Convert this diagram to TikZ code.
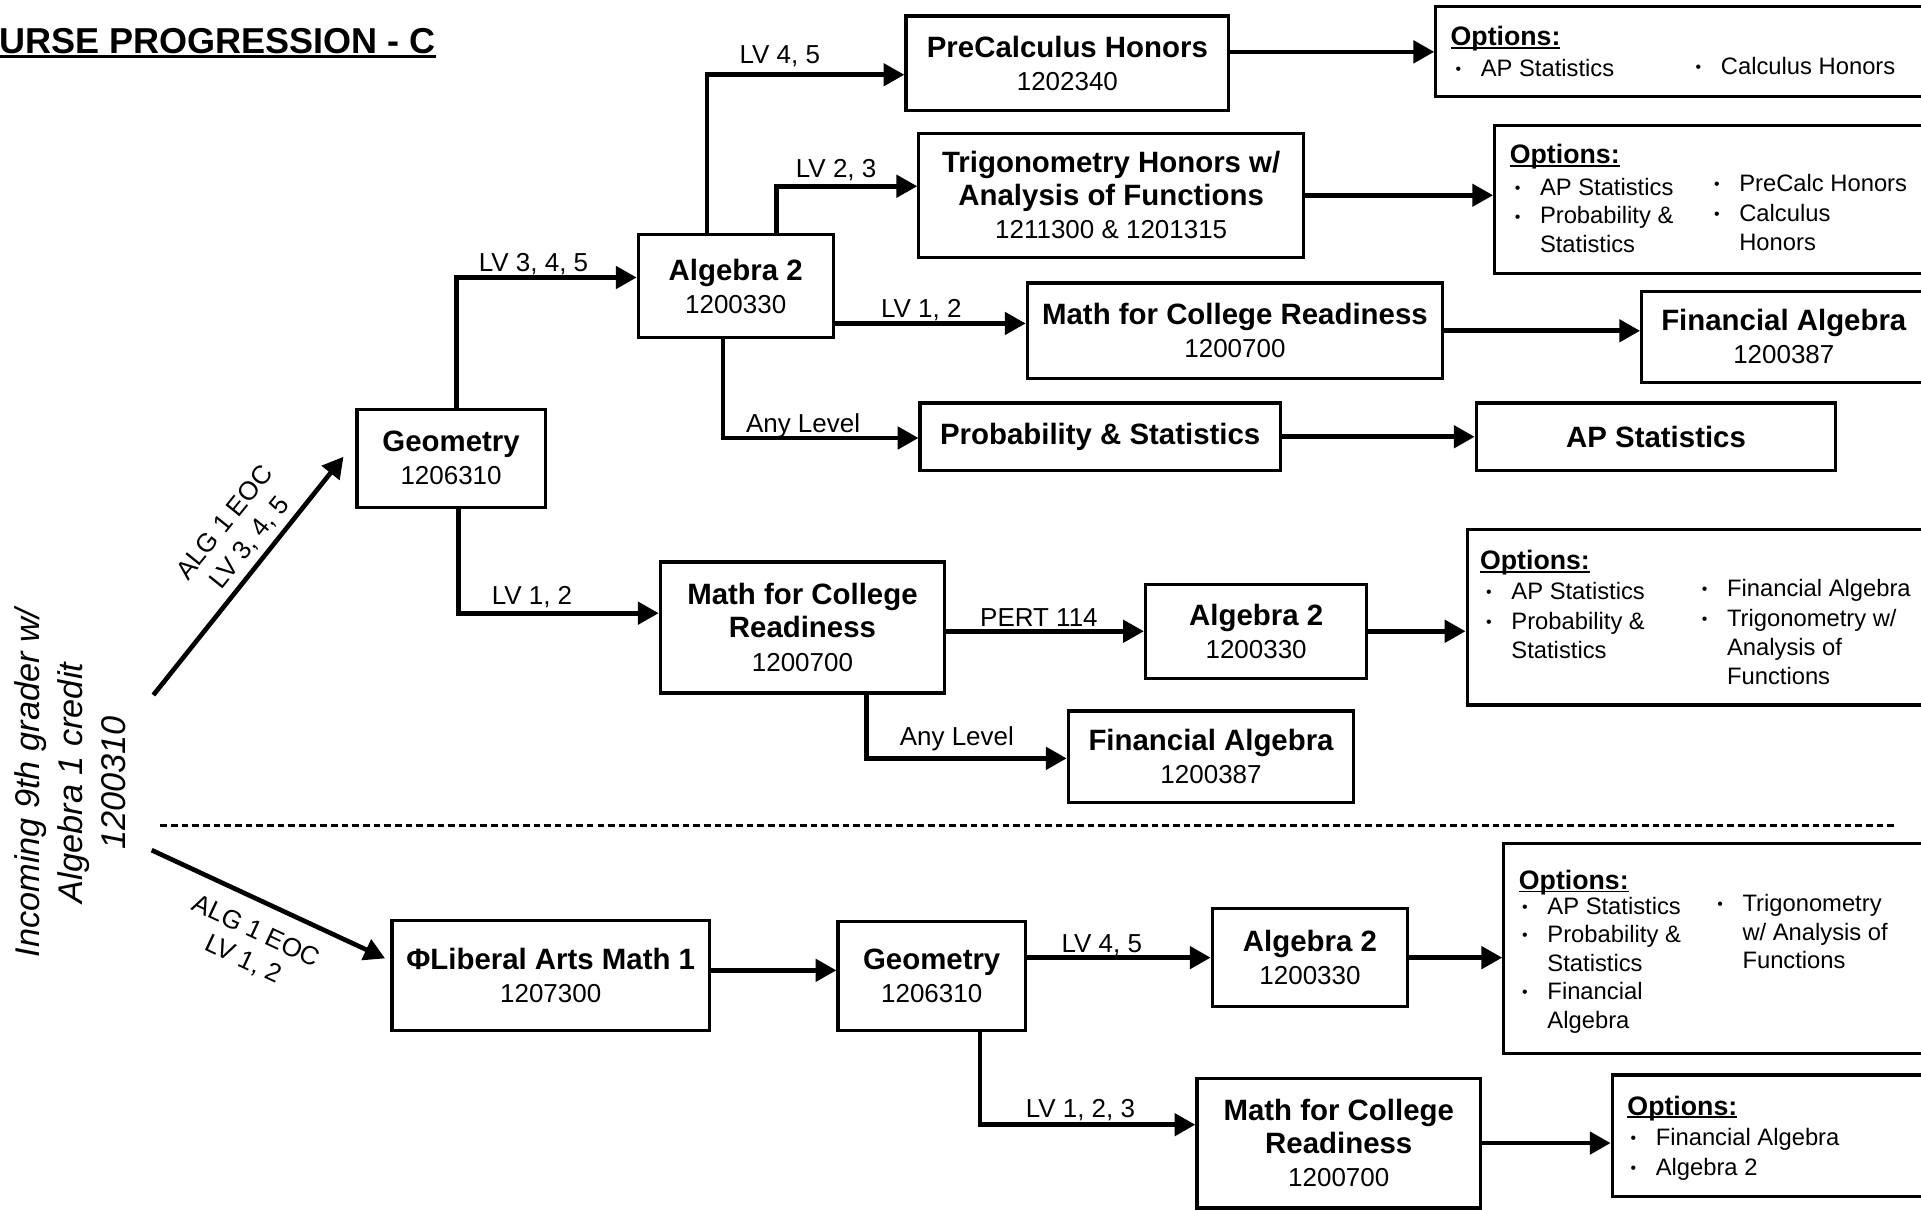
\documentclass[tikz,border=0pt]{standalone}
\usepackage{fontspec}
\setmainfont{Liberation Sans}
\usetikzlibrary{arrows.meta,calc}

\def\ctitle#1{{\bfseries\fontsize{12}{13.5}\selectfont #1}}
\def\undl#1{\setbox0\hbox{#1}\rlap{\rule[-0.11em]{\wd0}{0.07em}}\box0}
\def\bul{\makebox[10.3pt][l]{\raisebox{0.8pt}{\fontsize{6.5}{6.5}\selectfont\textbullet}}}
\def\indt{\hspace*{10.3pt}}

\tikzset{
  course/.style 2 args={draw, line width=1.3pt, align=center, inner sep=0pt,
    minimum width=#1*0.5pt, minimum height=#2*0.5pt,
    font=\fontsize{10.6}{13.5}\selectfont},
  optbox/.style 2 args={draw, line width=1.3pt, inner sep=0pt,
    minimum width=#1*0.5pt, minimum height=#2*0.5pt},
  opthead/.style={anchor=base west, inner sep=0pt, font=\bfseries\fontsize{10.9}{12}\selectfont},
  optline/.style={anchor=base west, inner sep=0pt, font=\fontsize{9.7}{12}\selectfont},
  lvl/.style={anchor=base, inner sep=0pt, font=\fontsize{10.6}{12}\selectfont},
  flow/.style={line width=1.9pt, -{Triangle[length=8.5pt, width=9pt]}},
}

\begin{document}
\begin{tikzpicture}[x=0.5pt, y=-0.5pt]

\def\width{1568}
\def\height{987}

\path [use as bounding box] (0,0) rectangle (\width,\height);
\fill [white] (0,0) rectangle (\width,\height);
\clip (0,0) rectangle (\width,\height);

% TITLE
\node [anchor=base west, inner sep=0pt, font=\bfseries\fontsize{14.7}{16}\selectfont] (title) at (-1,44) {\undl{URSE PROGRESSION - C}};

\node [rotate=90, align=center, inner sep=0pt, font=\itshape\fontsize{14}{17.5}\selectfont] (incoming) at (57.5,639) {Incoming 9th grader w/\\Algebra 1 credit\\1200310};
\coordinate (in1) at (125.2,567.3);
\coordinate (in2) at (123.8,693.9);

% COURSES
\node [course={263.5}{77}] (pcalc) at (871.25,51.5) {\ctitle{PreCalculus Honors}\\1202340};
\node [course={314}{101.3}] (trig) at (907,159.35) {\ctitle{Trigonometry Honors w/}\\\ctitle{Analysis of Functions}\\1211300 \& 1201315};
\node [course={159}{84}] (alg2) at (600.5,233.5) {\ctitle{Algebra 2}\\1200330};
\node [course={339}{78}] (mcr1) at (1008,270) {\ctitle{Math for College Readiness}\\1200700};
\node [course={232}{74}] (fin1) at (1456,275) {\ctitle{Financial Algebra}\\1200387};
\node [course={294}{55}] (prob) at (898,356.5) {\ctitle{Probability \& Statistics}};
\node [course={293.5}{55}] (apst) at (1351.75,356.5) {\ctitle{AP Statistics}};
\node [course={153.6}{80}] (geo1) at (368.2,374) {\ctitle{Geometry}\\1206310};
\node [course={232}{107}] (mcr2) at (655,512.15) {\ctitle{Math for College}\\\ctitle{Readiness}\\1200700};
\node [course={180.6}{76.5}] (alg2m) at (1025.3,515.25) {\ctitle{Algebra 2}\\1200330};
\node [course={233}{74.4}] (fin2) at (988.5,617.6) {\ctitle{Financial Algebra}\\1200387};
\node [course={259}{89.4}] (lam) at (449.5,796.3) {\ctitle{ΦLiberal Arts Math 1}\\1207300};
\node [course={153}{89}] (geo2) at (760.5,796.5) {\ctitle{Geometry}\\1206310};
\node [course={159.5}{80}] (alg2b) at (1069.25,781.65) {\ctitle{Algebra 2}\\1200330};
\node [course={231.5}{106}] (mcr3) at (1092.75,933) {\ctitle{Math for College}\\\ctitle{Readiness}\\1200700};

% OPTIONS
\node [optbox={408}{73.4}] (opt1) at (1376,42.3) {};
\node [opthead] (o1h) at (1183.7,37.5) {\undl{Options:}};
\node [optline] (o1a) at (1187.7,62.5) {\bul AP Statistics};
\node [optline] (o1b) at (1383.7,61) {\bul Calculus Honors};

\node [optbox={360}{121}] (opt2) at (1400,163) {};
\node [opthead] (o2h) at (1232,133.7) {\undl{Options:}};
\node [optline] (o2a) at (1236,159.3) {\bul AP Statistics};
\node [optline] (o2b) at (1236,182.8) {\bul Probability \&};
\node [optline] (o2c) at (1236,206) {\indt Statistics};
\node [optline] (o2d) at (1398.7,156) {\bul PreCalc Honors};
\node [optline] (o2e) at (1398.7,180.6) {\bul Calculus};
\node [optline] (o2f) at (1398.7,204.6) {\indt Honors};

\node [optbox={382.5}{143}] (opt3) at (1388.75,504) {};
\node [opthead] (o3h) at (1207.7,465) {\undl{Options:}};
\node [optline] (o3a) at (1212.7,489.5) {\bul AP Statistics};
\node [optline] (o3b) at (1212.7,513.5) {\bul Probability \&};
\node [optline] (o3c) at (1212.7,537.5) {\indt Statistics};
\node [optline] (o3d) at (1388.7,487) {\bul Financial Algebra};
\node [optline] (o3e) at (1388.7,511) {\bul Trigonometry w/};
\node [optline] (o3f) at (1388.7,535) {\indt Analysis of};
\node [optline] (o3g) at (1388.7,559) {\indt Functions};

\node [optbox={352.5}{171.4}] (opt4) at (1403.75,774.1) {};
\node [opthead] (o4h) at (1239.4,726) {\undl{Options:}};
\node [optline] (o4a) at (1242.1,746.4) {\bul AP Statistics};
\node [optline] (o4b) at (1242.1,769.6) {\bul Probability \&};
\node [optline] (o4c) at (1242.1,792.8) {\indt Statistics};
\node [optline] (o4d) at (1242.1,816) {\bul Financial};
\node [optline] (o4e) at (1242.1,839.2) {\indt Algebra};
\node [optline] (o4f) at (1401.3,744.2) {\bul Trigonometry};
\node [optline] (o4g) at (1401.3,767.4) {\indt w/ Analysis of};
\node [optline] (o4i) at (1401.3,790.6) {\indt Functions};

\node [optbox={264}{99}] (opt5) at (1448,927) {};
\node [opthead] (o5h) at (1328,910.2) {\undl{Options:}};
\node [optline] (o5a) at (1330.5,934.7) {\bul Financial Algebra};
\node [optline] (o5b) at (1330.5,959.2) {\bul Algebra 2};

% ARROWS
\draw [flow, shorten >=7.8pt] (in1) -- ($(geo1.west)+(0,-13.4)$);
\draw [flow, shorten >=2.4pt] (in2) -- ($(lam.west)+(0,-12)$);

\draw [flow] (geo1.north) ++(4.3,0) |- ($(alg2.west)+(0,-7)$);
\draw [flow] (geo1.south) ++(5.8,0) |- ($(mcr2.west)+(0,-11.65)$);

\draw [flow] (alg2.north) ++(-23.5,0) |- ($(pcalc.west)+(0,9.5)$);
\draw [flow] (alg2.north) ++(33.5,0) |- ($(trig.west)+(0,-7.35)$);
\path ($(mcr1.west)+(0,-6)$) coordinate (m1in);
\draw [flow] (alg2.east |- m1in) -- (m1in);
\draw [flow] (alg2.south) ++(-10.5,0) |- ($(prob.west)+(0,1)$);

\draw [flow] (pcalc.east |- opt1.west) -- (opt1.west);
\draw [flow] (trig.east) -- (trig.east -| opt2.west);
\draw [flow] (mcr1.east) -- (mcr1.east -| fin1.west);
\draw [flow] (prob.east) -- (apst.west);

\draw [flow] (mcr2.east |- alg2m.west) -- (alg2m.west);
\draw [flow] (alg2m.east) -- (alg2m.east -| opt3.west);
\draw [flow] (mcr2.south) ++(52,0) |- ($(fin2.west)+(0,1.4)$);

\path ($(geo2.west)+(0,-4.5)$) coordinate (g2in);
\draw [flow] (lam.east |- g2in) -- (g2in);
\draw [flow] (geo2.east |- alg2b.west) -- (alg2b.west);
\draw [flow] (alg2b.east) -- (alg2b.east -| opt4.west);
\draw [flow] (geo2.south) ++(39.5,0) |- ($(mcr3.west)+(0,-15)$);
\draw [flow] (mcr3.east) -- (mcr3.east -| opt5.west);

% LABELS
\node [lvl, anchor=center, rotate=51.2, align=center, font=\fontsize{10.6}{13}\selectfont] (eoc1) at (194,435) {ALG 1 EOC\\LV 3, 4, 5};
\node [lvl, anchor=center, rotate=-25, align=center, font=\fontsize{10.6}{12.5}\selectfont] (eoc2) at (203.6,772) {ALG 1 EOC\\LV 1, 2};

\node [lvl] (l45) at (636.5,51.5) {LV 4, 5};
\node [lvl] (l23) at (682.5,145) {LV 2, 3};
\node [lvl] (l12a) at (752,259.5) {LV 1, 2};
\node [lvl] (lanya) at (655.5,353) {Any Level};
\node [lvl] (l345) at (435.5,222) {LV 3, 4, 5};
\node [lvl] (l12b) at (434.25,493.6) {LV 1, 2};
\node [lvl] (lpert) at (848,511.4) {PERT 114};
\node [lvl] (lanyb) at (781,608.5) {Any Level};
\node [lvl] (l45b) at (899.4,777.7) {LV 4, 5};
\node [lvl] (l123) at (881.9,912) {LV 1, 2, 3};

% DIVIDER
\draw [line width=1.4pt, dash pattern=on 2.7pt off 1.65pt] (131,673.7) -- (1546,673.7);

\end{tikzpicture}
\end{document}
